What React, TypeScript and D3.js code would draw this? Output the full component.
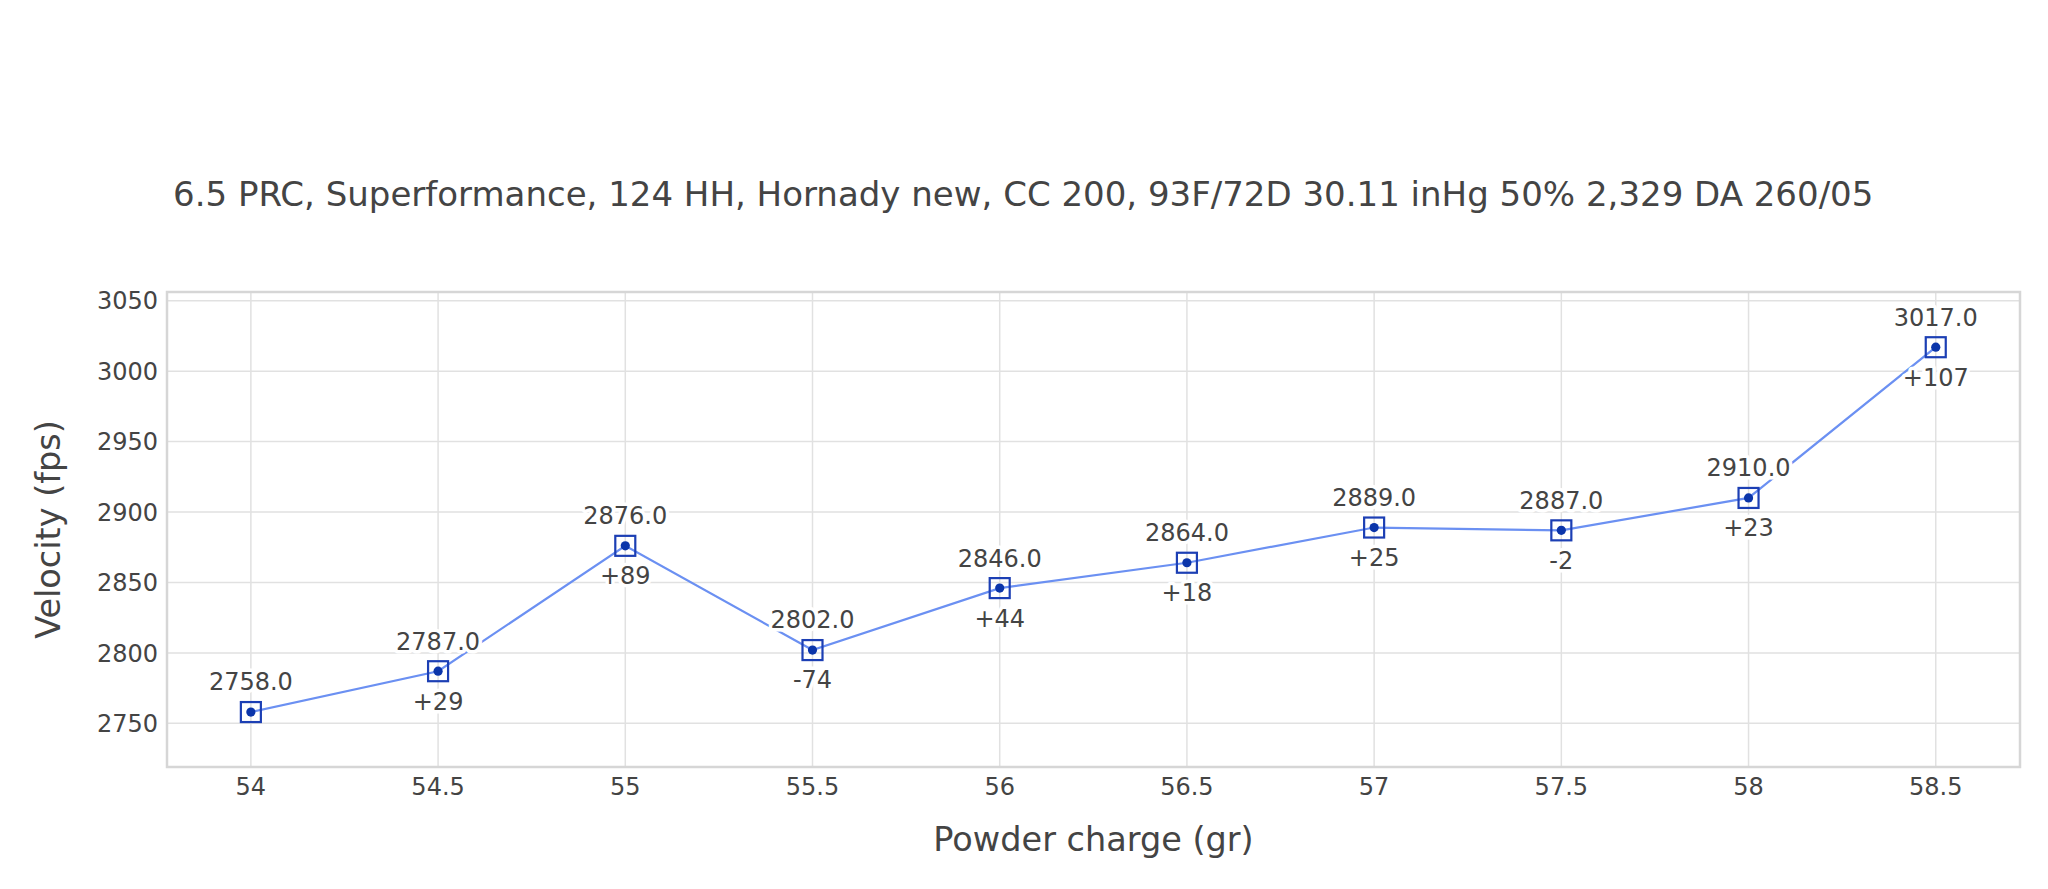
import * as d3 from 'd3';
import React from 'react';

// powder charge (gr) vs measured velocity (fps)
const charges = [54, 54.5, 55, 55.5, 56, 56.5, 57, 57.5, 58, 58.5];
const velocities = [2758, 2787, 2876, 2802, 2846, 2864, 2889, 2887, 2910, 3017];
const yTicks = [2750, 2800, 2850, 2900, 2950, 3000, 3050];
const xTicks = [54, 54.5, 55, 55.5, 56, 56.5, 57, 57.5, 58, 58.5];

const title =
  '6.5 PRC, Superformance, 124 HH, Hornady new, CC 200, 93F/72D 30.11 inHg 50% 2,329 DA 260/05';

const W = 2048;
const H = 889;
const plot = { left: 167, right: 2020, top: 292, bottom: 767 };

const FONT = '"DejaVu Sans", sans-serif';
const TEXT = '#444';

export default function App() {
  const x = d3.scaleLinear().domain([53.776, 58.725]).range([plot.left, plot.right]);
  const y = d3.scaleLinear().domain([2719, 3056.2]).range([plot.bottom, plot.top]);

  const pts = charges.map((c, i) => ({ c, v: velocities[i], d: i > 0 ? velocities[i] - velocities[i - 1] : null }));

  const line = d3
    .line<{ c: number; v: number }>()
    .x(d => x(d.c))
    .y(d => y(d.v));

  const halo = { stroke: '#fff', strokeWidth: 7, paintOrder: 'stroke' as const, strokeLinejoin: 'round' as const };

  return (
    <svg width={W} height={H} style={{ position: 'absolute', left: 0, top: 0, background: '#fff' }} fontFamily={FONT}>
      <rect width={W} height={H} fill="#fff" />

      <text x={173} y={206} fontSize={34} fill={TEXT}>
        {title}
      </text>

      {/* grid */}
      {yTicks.map(t => (
        <line key={'gy' + t} x1={plot.left} x2={plot.right} y1={y(t)} y2={y(t)} stroke="#e1e1e1" strokeWidth={1.5} />
      ))}
      {xTicks.map(t => (
        <line key={'gx' + t} x1={x(t)} x2={x(t)} y1={plot.top} y2={plot.bottom} stroke="#e1e1e1" strokeWidth={1.5} />
      ))}
      <rect
        x={plot.left}
        y={plot.top}
        width={plot.right - plot.left}
        height={plot.bottom - plot.top}
        fill="none"
        stroke="#d6d6d6"
        strokeWidth={2.5}
      />

      {/* axis tick labels */}
      {yTicks.map(t => (
        <text key={'ty' + t} x={158} y={y(t)} dy="0.36em" textAnchor="end" fontSize={24} fill={TEXT}>
          {t}
        </text>
      ))}
      {xTicks.map(t => (
        <text key={'tx' + t} x={x(t)} y={795} textAnchor="middle" fontSize={24} fill={TEXT}>
          {t}
        </text>
      ))}

      {/* axis titles */}
      <text x={(plot.left + plot.right) / 2} y={851} textAnchor="middle" fontSize={33.5} fill={TEXT}>
        Powder charge (gr)
      </text>
      <text
        transform={`translate(60,${(plot.top + plot.bottom) / 2}) rotate(-90)`}
        textAnchor="middle"
        fontSize={33.5}
        fill={TEXT}
      >
        Velocity (fps)
      </text>

      {/* series */}
      <path d={line(pts) ?? ''} fill="none" stroke="#6b90f2" strokeWidth={2.2} />

      {pts.map(p => (
        <g key={'m' + p.c}>
          <rect x={x(p.c) - 10} y={y(p.v) - 10} width={20} height={20} fill="none" stroke="#1c3fb4" strokeWidth={2.2} />
          <circle cx={x(p.c)} cy={y(p.v)} r={4.6} fill="#0b35aa" />
        </g>
      ))}

      {pts.map(p => (
        <g key={'l' + p.c} fontSize={24} fill={TEXT} textAnchor="middle">
          <text x={x(p.c)} y={y(p.v) - 21.6} {...halo}>
            {p.v.toFixed(1)}
          </text>
          {p.d !== null && (
            <text x={x(p.c)} y={y(p.v) + 38.4} {...halo}>
              {(p.d > 0 ? '+' : '') + p.d}
            </text>
          )}
        </g>
      ))}
    </svg>
  );
}
